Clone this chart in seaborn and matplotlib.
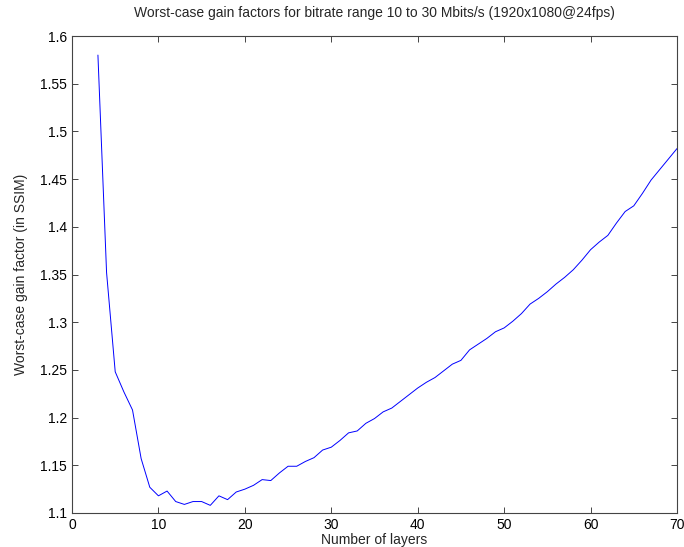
import numpy as np
import pandas as pd
import seaborn as sns
import matplotlib
matplotlib.use("Agg")
import matplotlib.pyplot as plt

layers = list(range(3, 71))
gain = [1.580, 1.352, 1.248, 1.227, 1.208, 1.157, 1.127, 1.118, 1.123, 1.112,
        1.109, 1.112, 1.112, 1.108, 1.118, 1.114, 1.122, 1.125, 1.129, 1.135,
        1.134, 1.142, 1.149, 1.149, 1.154, 1.158, 1.166, 1.169, 1.176, 1.184,
        1.186, 1.194, 1.199, 1.206, 1.210, 1.217, 1.224, 1.231, 1.237, 1.242,
        1.249, 1.256, 1.260, 1.271, 1.277, 1.283, 1.290, 1.294, 1.301, 1.309,
        1.319, 1.325, 1.332, 1.340, 1.347, 1.355, 1.365, 1.376, 1.384, 1.391,
        1.404, 1.416, 1.422, 1.435, 1.449, 1.460, 1.471, 1.482]

title = "Worst-case gain factors for bitrate range 10 to 30 Mbits/s (1920x1080@24fps)"
xlabel = "Number of layers"
ylabel = "Worst-case gain factor (in SSIM)"
xticks = [0, 10, 20, 30, 40, 50, 60, 70]
yticks = [1.1, 1.15, 1.2, 1.25, 1.3, 1.35, 1.4, 1.45, 1.5, 1.55, 1.6]
ytick_labels = ["1.1", "1.15", "1.2", "1.25", "1.3", "1.35", "1.4", "1.45", "1.5", "1.55", "1.6"]

df = pd.DataFrame({"layers": layers, "gain": gain})

sns.set_style("white")
plt.rcParams["font.family"] = ["Liberation Sans", "DejaVu Sans"]

fig = plt.figure(figsize=(6.84, 5.47), dpi=100)
ax = fig.add_axes([72/684, 34/547, 605/684, 477/547])
sns.lineplot(data=df, x="layers", y="gain", ax=ax, color="#0000ff", linewidth=0.7)

ax.set_xlim(0, 70)
ax.set_ylim(1.1, 1.6)
ax.set_xticks(xticks)
ax.set_xticklabels([str(t) for t in xticks])
ax.set_yticks(yticks)
ax.set_yticklabels(ytick_labels)
ax.tick_params(direction="in", length=4, width=0.7, colors="#444444",
               labelcolor="black", labelsize=10, top=True, right=True,
               bottom=True, left=True, pad=3.5)
for s in ax.spines.values():
    s.set_visible(True)
    s.set_color("#444444")
    s.set_linewidth(0.8)

ax.set_title(title, fontsize=10, pad=14)
ax.set_xlabel(xlabel, fontsize=10, labelpad=1)
ax.set_ylabel(ylabel, fontsize=10, labelpad=9)

fig.savefig("out.png", dpi=100)
